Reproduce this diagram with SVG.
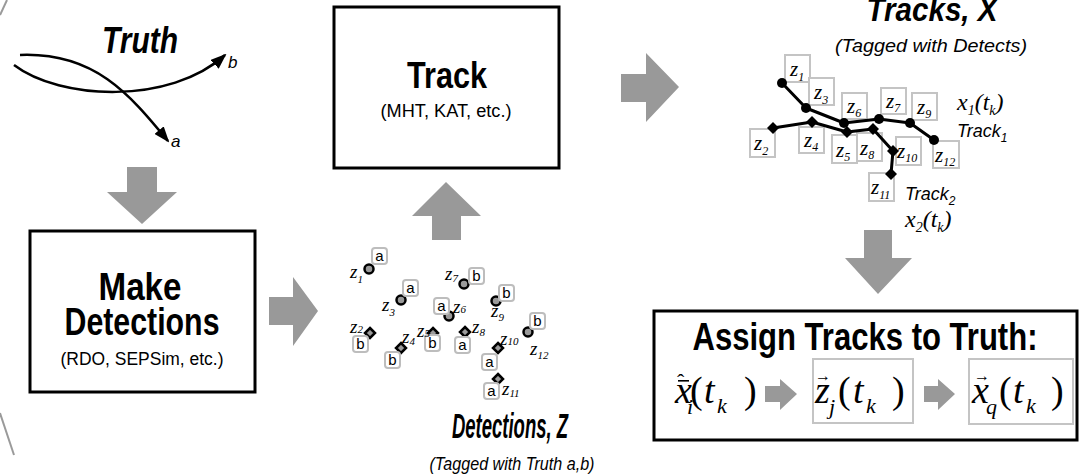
<svg xmlns="http://www.w3.org/2000/svg" width="1089" height="476" viewBox="0 0 1089 476">
  <style>
    .bold { font-family: "Liberation Sans Narrow", "Liberation Sans", Arial, sans-serif; font-weight: bold; fill: #000; }
    .bi { font-family: "Liberation Sans Narrow", "Liberation Sans", Arial, sans-serif; font-weight: bold; font-style: italic; fill: #000; }
    .sans { font-family: "Liberation Sans Narrow", "Liberation Sans", Arial, sans-serif; fill: #000; }
    .si { font-family: "Liberation Sans Narrow", "Liberation Sans", Arial, sans-serif; font-style: italic; fill: #000; }
    .mi { font-family: "Liberation Serif", "Times New Roman", serif; font-style: italic; fill: #000; }
    .mr { font-family: "Liberation Serif", "Times New Roman", serif; fill: #000; }
    .box { fill: #fff; stroke: #000; stroke-width: 3; }
    .gbox { fill: #fff; stroke: #c4c4c4; stroke-width: 2; }
    .tag { fill: #fff; stroke: #bdbdbd; stroke-width: 2; }
    .flow { fill: #999; stroke: none; }
    .trk { fill: none; stroke: #000; stroke-width: 3; stroke-linejoin: round; }
    .det { fill: #9a9a9a; stroke: #000; stroke-width: 2.5; }
    .edge { stroke: #9a9a9a; stroke-width: 2; }
  </style>
  <defs>
    <marker id="head" markerUnits="userSpaceOnUse" markerWidth="16" markerHeight="12" refX="14" refY="6" orient="auto">
      <path d="M0,0 L16,6 L0,12 Z" fill="#000"/>
    </marker>
  </defs>

  <rect width="1089" height="476" fill="#fff"/>

  <!-- frame fragments at the left edge -->
  <line class="edge" x1="0" y1="15" x2="7" y2="0"/>
  <line class="edge" x1="0" y1="413" x2="14" y2="455"/>

  <!-- truth trajectories -->
  <g id="truth">
    <text class="bi" x="140" y="53" font-size="36" text-anchor="middle" textLength="76" lengthAdjust="spacingAndGlyphs">Truth</text>
    <path d="M20,55 C95,52 130,95 168,141" fill="none" stroke="#000" stroke-width="2.5" marker-end="url(#head)"/>
    <path d="M14,65 C60,100 170,105 225,55" fill="none" stroke="#000" stroke-width="2.5" marker-end="url(#head)"/>
    <text class="si" x="171" y="147" font-size="17">a</text>
    <text class="si" x="228" y="68" font-size="17">b</text>
  </g>

  <!-- Make Detections -->
  <g id="make-detections">
    <rect class="box" x="30" y="231" width="225" height="161"/>
    <text class="bold" x="140" y="300" font-size="38" text-anchor="middle" textLength="83" lengthAdjust="spacingAndGlyphs">Make</text>
    <text class="bold" x="142" y="335" font-size="38" text-anchor="middle" textLength="155" lengthAdjust="spacingAndGlyphs">Detections</text>
    <text class="sans" x="142" y="365" font-size="18" text-anchor="middle" textLength="163" lengthAdjust="spacingAndGlyphs">(RDO, SEPSim, etc.)</text>
  </g>

  <!-- Track -->
  <g id="track">
    <rect class="box" x="334" y="7" width="225" height="161"/>
    <text class="bold" x="447" y="88" font-size="36" text-anchor="middle" textLength="80" lengthAdjust="spacingAndGlyphs">Track</text>
    <text class="sans" x="446" y="117" font-size="18" text-anchor="middle" textLength="131" lengthAdjust="spacingAndGlyphs">(MHT, KAT, etc.)</text>
  </g>

  <!-- Detections, Z -->
  <g id="detections">
    <!-- circles -->
    <circle class="det" cx="369" cy="269" r="4.5"/>
    <circle class="det" cx="401" cy="300" r="4.5"/>
    <circle class="det" cx="449" cy="316" r="4.5"/>
    <circle class="det" cx="464" cy="284" r="4.5"/>
    <circle class="det" cx="496" cy="301" r="4.5"/>
    <circle class="det" cx="528" cy="332" r="4.5"/>
    <!-- diamonds -->
    <path class="det" d="M370,328 l5,5 l-5,5 l-5,-5 Z"/>
    <path class="det" d="M401,343 l5,5 l-5,5 l-5,-5 Z"/>
    <path class="det" d="M433,328 l5,5 l-5,5 l-5,-5 Z"/>
    <path class="det" d="M465,327 l5,5 l-5,5 l-5,-5 Z"/>
    <path class="det" d="M498,343 l5,5 l-5,5 l-5,-5 Z"/>
    <path class="det" d="M498,374 l5,5 l-5,5 l-5,-5 Z"/>

    <!-- truth tags -->
    <g class="sans" font-size="15" text-anchor="middle">
      <rect class="tag" x="372" y="248" width="15" height="16" rx="3"/><text x="379.5" y="261">a</text>
      <rect class="tag" x="403" y="280" width="15" height="16" rx="3"/><text x="410.5" y="293">a</text>
      <rect class="tag" x="353" y="336" width="15" height="16" rx="3"/><text x="360.5" y="349">b</text>
      <rect class="tag" x="385" y="352" width="15" height="16" rx="3"/><text x="392.5" y="365">b</text>
      <rect class="tag" x="425" y="335" width="15" height="16" rx="3"/><text x="432.5" y="348">b</text>
      <rect class="tag" x="434" y="298" width="15" height="16" rx="3"/><text x="441.5" y="311">a</text>
      <rect class="tag" x="469" y="268" width="15" height="16" rx="3"/><text x="476.5" y="281">b</text>
      <rect class="tag" x="455" y="337" width="15" height="16" rx="3"/><text x="462.5" y="350">a</text>
      <rect class="tag" x="499" y="285" width="15" height="16" rx="3"/><text x="506.5" y="298">b</text>
      <rect class="tag" x="482" y="354" width="15" height="16" rx="3"/><text x="489.5" y="367">a</text>
      <rect class="tag" x="484" y="383" width="15" height="16" rx="3"/><text x="491.5" y="396">a</text>
      <rect class="tag" x="530" y="313" width="15" height="16" rx="3"/><text x="537.5" y="326">b</text>
    </g>

    <!-- detection names -->
    <g class="mi" font-size="19">
      <text x="350" y="278">z<tspan font-size="11" dy="5">1</tspan></text>
      <text x="382" y="311">z<tspan font-size="11" dy="5">3</tspan></text>
      <text x="350" y="333">z<tspan font-size="11" dy="0">2</tspan></text>
      <text x="402" y="343">z<tspan font-size="11" dy="2">4</tspan></text>
      <text x="417" y="337">z<tspan font-size="11" dy="0">5</tspan></text>
      <text x="453" y="313">z<tspan font-size="11" dy="0">6</tspan></text>
      <text x="445" y="280">z<tspan font-size="11" dy="2">7</tspan></text>
      <text x="472" y="333">z<tspan font-size="11" dy="3">8</tspan></text>
      <text x="491" y="317">z<tspan font-size="11" dy="4">9</tspan></text>
      <text x="500" y="345">z<tspan font-size="11" dy="0">10</tspan></text>
      <text x="502" y="395">z<tspan font-size="11" dy="2">11</tspan></text>
      <text x="530" y="355">z<tspan font-size="11" dy="4">12</tspan></text>
    </g>

    <text class="bi" x="510" y="438" font-size="35" text-anchor="middle" textLength="116" lengthAdjust="spacingAndGlyphs">Detections, Z</text>
    <text class="si" x="512" y="470" font-size="19" text-anchor="middle" textLength="165" lengthAdjust="spacingAndGlyphs">(Tagged with Truth a,b)</text>
  </g>

  <!-- Tracks, X -->
  <g id="tracks">
    <text class="bi" x="932" y="21" font-size="34" text-anchor="middle" textLength="131" lengthAdjust="spacingAndGlyphs">Tracks, X</text>
    <text class="si" x="931" y="52" font-size="19" text-anchor="middle" textLength="192" lengthAdjust="spacingAndGlyphs">(Tagged with Detects)</text>

    <!-- detection boxes -->
    <rect class="gbox" x="785" y="55" width="25" height="27"/>
    <rect class="gbox" x="809" y="78" width="25" height="27"/>
    <rect class="gbox" x="842" y="93" width="25" height="26"/>
    <rect class="gbox" x="881" y="88" width="25" height="26"/>
    <rect class="gbox" x="912" y="93" width="25" height="27"/>
    <rect class="gbox" x="750" y="129" width="25" height="28"/>
    <rect class="gbox" x="799" y="127" width="25" height="26"/>
    <rect class="gbox" x="832" y="135" width="25" height="28"/>
    <rect class="gbox" x="857" y="133" width="25" height="28"/>
    <rect class="gbox" x="896" y="137" width="25" height="28"/>
    <rect class="gbox" x="933" y="141" width="26" height="27"/>
    <rect class="gbox" x="869" y="173" width="25" height="28"/>

    <g class="mi" font-size="21">
      <text x="790" y="76">z<tspan font-size="12" dy="5">1</tspan></text>
      <text x="814" y="99">z<tspan font-size="12" dy="5">3</tspan></text>
      <text x="847" y="113">z<tspan font-size="12" dy="4">6</tspan></text>
      <text x="886" y="108">z<tspan font-size="12" dy="4">7</tspan></text>
      <text x="917" y="114">z<tspan font-size="12" dy="4">9</tspan></text>
      <text x="754" y="150">z<tspan font-size="12" dy="5">2</tspan></text>
      <text x="804" y="147">z<tspan font-size="12" dy="4">4</tspan></text>
      <text x="836" y="157">z<tspan font-size="12" dy="4">5</tspan></text>
      <text x="860" y="155">z<tspan font-size="12" dy="4">8</tspan></text>
      <text x="897" y="158">z<tspan font-size="12" dy="4">10</tspan></text>
      <text x="935" y="162">z<tspan font-size="12" dy="4">12</tspan></text>
      <text x="871" y="194">z<tspan font-size="12" dy="5">11</tspan></text>
    </g>

    <!-- track 1 -->
    <polyline class="trk" points="782,83 806,108 844,123 879,119 910,123 934,140"/>
    <g fill="#000">
      <circle cx="782" cy="83" r="5"/>
      <circle cx="806" cy="108" r="5"/>
      <circle cx="844" cy="123" r="5"/>
      <circle cx="879" cy="119" r="5"/>
      <circle cx="910" cy="123" r="5"/>
      <circle cx="934" cy="140" r="5"/>
    </g>
    <!-- track 2 -->
    <polyline class="trk" points="773,128 812,122 847,132 873,129 893,151 891,174"/>
    <g fill="#000">
      <path d="M773,122 l6,6 l-6,6 l-6,-6 Z"/>
      <path d="M812,116 l6,6 l-6,6 l-6,-6 Z"/>
      <path d="M847,126 l6,6 l-6,6 l-6,-6 Z"/>
      <path d="M873,123 l6,6 l-6,6 l-6,-6 Z"/>
      <path d="M893,145 l6,6 l-6,6 l-6,-6 Z"/>
      <path d="M891,168 l6,6 l-6,6 l-6,-6 Z"/>
    </g>

    <text class="mi" x="957" y="110" font-size="24">x<tspan font-size="14" dy="5">1</tspan><tspan dy="-5">(t</tspan><tspan font-size="14" dy="5">k</tspan><tspan dy="-5">)</tspan></text>
    <text class="si" x="957" y="137" font-size="18">Track<tspan font-size="12" dy="5">1</tspan></text>
    <text class="si" x="905" y="200" font-size="18">Track<tspan font-size="12" dy="5">2</tspan></text>
    <text class="mi" x="905" y="227" font-size="24">x<tspan font-size="14" dy="5">2</tspan><tspan dy="-5">(t</tspan><tspan font-size="14" dy="5">k</tspan><tspan dy="-5">)</tspan></text>
  </g>

  <!-- Assign Tracks to Truth -->
  <g id="assign">
    <rect class="box" x="654" y="311" width="423" height="129"/>
    <text class="bold" x="865" y="350" font-size="38" text-anchor="middle" textLength="345" lengthAdjust="spacingAndGlyphs">Assign Tracks to Truth:</text>

    <!-- estimated track: x with hat over bar -->
    <text class="mi" x="675" y="403" font-size="38">x</text>
    <text class="mr" x="677" y="389" font-size="22">ˆ</text>
    <rect x="678" y="380" width="11" height="1.6" fill="#000"/>
    <text class="mi" x="687" y="414" font-size="22">i</text>
    <text class="mr" x="690" y="403" font-size="38">(</text>
    <text class="mi" x="704" y="403" font-size="38">t</text>
    <text class="mi" x="717" y="413" font-size="22">k</text>
    <text class="mr" x="744" y="403" font-size="38">)</text>

    <!-- detection -->
    <rect class="gbox" x="813" y="359" width="100" height="64"/>
    <text class="mi" x="815" y="403" font-size="38">z</text>
    <text class="mr" x="815" y="381" font-size="16">→</text>
    <text class="mi" x="829" y="414" font-size="22">j</text>
    <text class="mr" x="838" y="403" font-size="38">(</text>
    <text class="mi" x="853" y="403" font-size="38">t</text>
    <text class="mi" x="866" y="413" font-size="22">k</text>
    <text class="mr" x="892" y="403" font-size="38">)</text>

    <!-- truth -->
    <rect class="gbox" x="969" y="359" width="104" height="65"/>
    <text class="mi" x="972" y="403" font-size="38">x</text>
    <text class="mr" x="974" y="381" font-size="16">→</text>
    <text class="mi" x="986" y="414" font-size="22">q</text>
    <text class="mr" x="999" y="403" font-size="38">(</text>
    <text class="mi" x="1013" y="403" font-size="38">t</text>
    <text class="mi" x="1026" y="413" font-size="22">k</text>
    <text class="mr" x="1051" y="403" font-size="38">)</text>
  </g>

  <!-- flow arrows -->
  <g id="connectors">
    <polygon class="flow" points="127,167 157,167 157,192 177,192 142,224 107,192 127,192"/>
    <polygon class="flow" points="269,297 293,297 293,277 318,311 293,346 293,325 269,325"/>
    <polygon class="flow" points="432,240 461,240 461,216 481,216 446,182 412,216 432,216"/>
    <polygon class="flow" points="621,74 646,74 646,53 679,87 646,122 646,102 621,102"/>
    <polygon class="flow" points="864,230 892,230 892,258 912,258 878,294 845,258 864,258"/>
    <polygon class="flow" points="765,386 780,386 780,379 797,394 780,410 780,402 765,402"/>
    <polygon class="flow" points="924,386 938,386 938,379 955,394 938,410 938,402 924,402"/>
  </g>
</svg>
